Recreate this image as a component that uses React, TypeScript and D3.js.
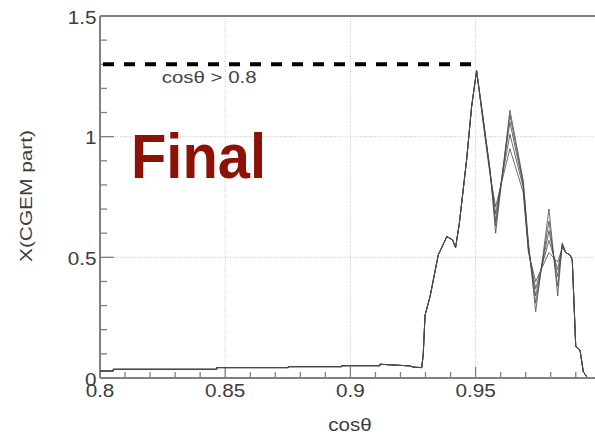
import React from "react";
import * as d3 from "d3";

// shared rising part (cosθ, X)
const leftX = [0.8, 0.8053, 0.8053, 0.8466, 0.8466, 0.8752, 0.8752, 0.8965, 0.8965, 0.9118, 0.9118, 0.9238, 0.925, 0.9285, 0.9291, 0.9298, 0.9318, 0.9351, 0.9385, 0.9408, 0.942, 0.9435, 0.9464, 0.9484, 0.9504];
const leftY = [0.029, 0.029, 0.036, 0.036, 0.043, 0.043, 0.047, 0.047, 0.051, 0.051, 0.057, 0.05, 0.045, 0.043, 0.1, 0.26, 0.337, 0.51, 0.586, 0.572, 0.54, 0.64, 0.903, 1.124, 1.273];

// oscillating region, one array per curve
const peakX = [0.9531, 0.9558, 0.958, 0.9637, 0.969, 0.9711, 0.974, 0.9793, 0.9828, 0.9846, 0.986, 0.9877];
const curve1 = [1.07, 0.86, 0.6, 1.11, 0.82, 0.56, 0.275, 0.7, 0.34, 0.56, 0.52, 0.51];
const curve2 = [1.07, 0.86, 0.63, 1.09, 0.81, 0.55, 0.31, 0.65, 0.38, 0.555, 0.52, 0.51];
const curve3 = [1.06, 0.85, 0.65, 1.06, 0.8, 0.54, 0.34, 0.61, 0.42, 0.55, 0.52, 0.51];
const curve4 = [1.06, 0.85, 0.68, 1.01, 0.79, 0.53, 0.37, 0.57, 0.45, 0.545, 0.52, 0.51];
const curve5 = [1.05, 0.84, 0.71, 0.95, 0.77, 0.52, 0.4, 0.52, 0.48, 0.54, 0.52, 0.51];

// shared falling tail
const tailX = [0.9886, 0.99, 0.9917, 0.993, 0.9944];
const tailY = [0.49, 0.13, 0.116, 0.026, 0.005];

const xTickLabels = ["0.8", "0.85", "0.9", "0.95"];
const xTickValues = [0.8, 0.85, 0.9, 0.95];
const yTickLabels = ["0", "0.5", "1", "1.5"];
const yTickValues = [0, 0.5, 1, 1.5];
const cutValue = 1.3;
const cutEnd = 0.95;

const FONT = "'Liberation Sans', Arial, Helvetica, sans-serif";

export default function App() {
  const x = d3.scaleLinear().domain([0.8, 1.0]).range([100, 600.8]);
  const y = d3.scaleLinear().domain([0, 1.5]).range([378, 16]);
  const line = d3
    .line<[number, number]>()
    .x((d) => x(d[0]))
    .y((d) => y(d[1]));

  const curves = [curve1, curve2, curve3, curve4, curve5].map((c) => {
    const pts: [number, number][] = [];
    leftX.forEach((v, i) => pts.push([v, leftY[i]]));
    peakX.forEach((v, i) => pts.push([v, c[i]]));
    tailX.forEach((v, i) => pts.push([v, tailY[i]]));
    return pts;
  });

  const xMinor = d3.range(80, 100).map((i) => i / 100);
  const yMinor = d3.range(0, 16).map((i) => i / 10);
  const axisColor = "#808080";
  const labelColor = "#3c3c3c";

  return (
    <svg
      width={595}
      height={435}
      style={{ position: "absolute", left: 0, top: 0, background: "#fff" }}
    >
      <rect x={0} y={0} width={595} height={435} fill="#fff" />
      {/* grid */}
      {[0.85, 0.9, 0.95].map((v) => (
        <line key={"gx" + v} x1={x(v)} x2={x(v)} y1={y(1.5)} y2={y(0)} stroke="#c4c4c4" strokeWidth={1} strokeDasharray="1 1.5" />
      ))}
      {[0.5, 1.0].map((v) => (
        <line key={"gy" + v} x1={x(0.8)} x2={x(1.0)} y1={y(v)} y2={y(v)} stroke="#c4c4c4" strokeWidth={1} strokeDasharray="1 1.5" />
      ))}
      {/* minor ticks */}
      {xMinor.map((v) => {
        const major = xTickValues.some((t) => Math.abs(t - v) < 1e-6);
        return (
          <line key={"xt" + v} x1={x(v)} x2={x(v)} y1={y(0)} y2={y(0) - (major ? 11 : 6)} stroke={axisColor} strokeWidth={1.3} />
        );
      })}
      {yMinor.map((v) => {
        const major = yTickValues.some((t) => Math.abs(t - v) < 1e-6);
        return (
          <line key={"yt" + v} x1={x(0.8)} x2={x(0.8) + (major ? 14 : 7)} y1={y(v)} y2={y(v)} stroke={axisColor} strokeWidth={1.3} />
        );
      })}
      {/* frame */}
      <line x1={x(0.8)} x2={x(1.0)} y1={y(1.5)} y2={y(1.5)} stroke={axisColor} strokeWidth={2} />
      <line x1={x(0.8)} x2={x(1.0)} y1={y(0)} y2={y(0)} stroke={axisColor} strokeWidth={2} />
      <line x1={x(0.8)} x2={x(0.8)} y1={y(1.5)} y2={y(0)} stroke={axisColor} strokeWidth={2} />

      {/* curves */}
      {curves.map((pts, i) => (
        <path key={"c" + i} d={line(pts) || ""} fill="none" stroke="#4a4a4a" strokeWidth={1} strokeOpacity={0.8} strokeLinejoin="round" />
      ))}

      {/* cut line */}
      <line x1={x(0.8) + 3} x2={x(cutEnd)} y1={y(cutValue)} y2={y(cutValue)} stroke="#000" strokeWidth={4} strokeDasharray="11 10" />
      <text x={161.7} y={83} fontFamily={FONT} fontSize={16} fill="#444" textLength={95} lengthAdjust="spacingAndGlyphs">
        cosθ &gt; 0.8
      </text>

      {/* Final */}
      <text x={131} y={177.5} fontFamily={FONT} fontSize={63} fontWeight="bold" fill="#8c1208" textLength={135} lengthAdjust="spacingAndGlyphs">
        Final
      </text>

      {/* tick labels */}
      {yTickValues.map((v, i) => (
        <g key={"yl" + v} transform={`translate(96.5, ${y(v) + 7.5}) scale(1.15,1)`}>
          <text textAnchor="end" fontFamily={FONT} fontSize={18} fill={labelColor}>
            {yTickLabels[i]}
          </text>
        </g>
      ))}
      {xTickValues.map((v, i) => (
        <g key={"xl" + v} transform={`translate(${x(v)}, 397.3) scale(1.15,1)`}>
          <text textAnchor="middle" fontFamily={FONT} fontSize={18} fill={labelColor}>
            {xTickLabels[i]}
          </text>
        </g>
      ))}

      {/* axis titles */}
      <g transform={`translate(350, 430.5) scale(1.08,1)`}>
        <text textAnchor="middle" fontFamily={FONT} fontSize={19} fill={labelColor}>
          cosθ
        </text>
      </g>
      <text
        transform="translate(32, 196) rotate(-90)"
        textAnchor="middle"
        fontFamily={FONT}
        fontSize={17}
        fill={labelColor}
        textLength={132}
        lengthAdjust="spacingAndGlyphs"
      >
        X(CGEM part)
      </text>
    </svg>
  );
}
